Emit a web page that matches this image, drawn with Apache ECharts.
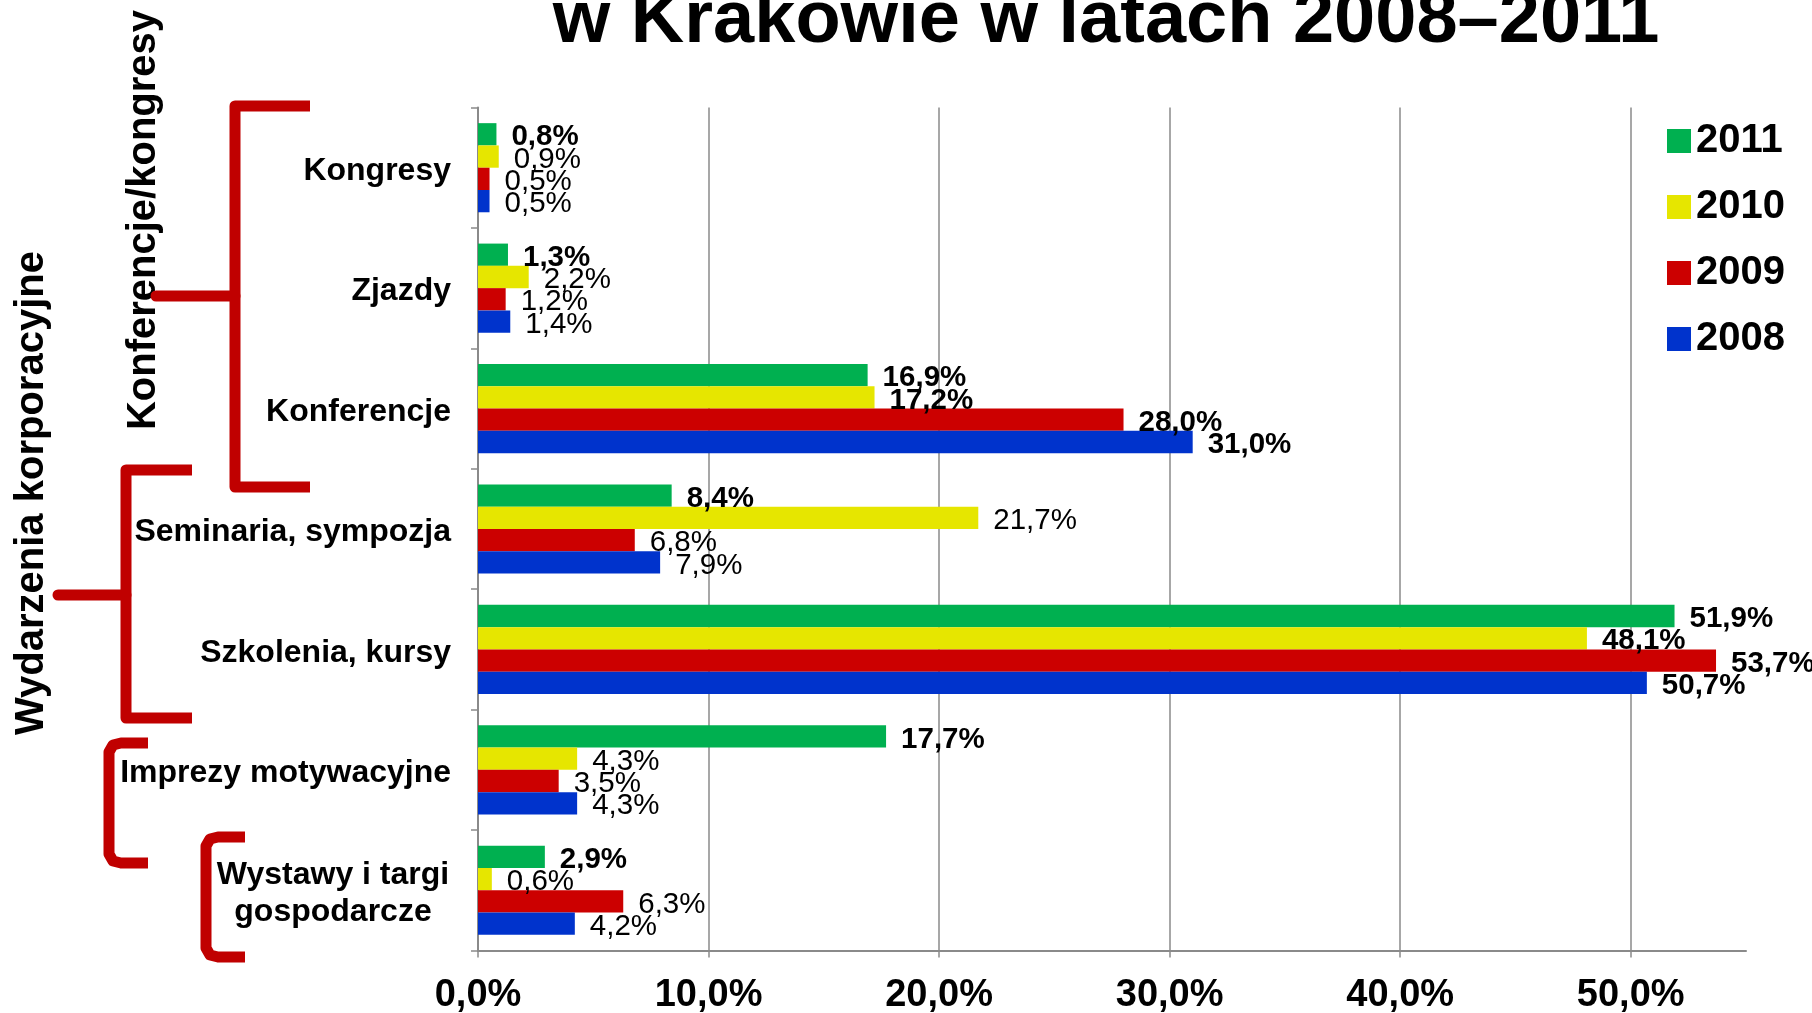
<!DOCTYPE html>
<html><head><meta charset="utf-8">
<script src="https://cdn.jsdelivr.net/npm/echarts@6/dist/echarts.min.js"></script>
<style>html,body{margin:0;padding:0;background:#fff}#c{width:1812px;height:1013px}</style>
</head><body><div id="c"></div>
<script>
const categories = ['Kongresy','Zjazdy','Konferencje','Seminaria, sympozja','Szkolenia, kursy','Imprezy motywacyjne','Wystawy i targi\ngospodarcze'];
const years = ['2011','2010','2009','2008'];
const v2011 = [0.8,1.3,16.9,8.4,51.9,17.7,2.9];
const v2010 = [0.9,2.2,17.2,21.7,48.1,4.3,0.6];
const v2009 = [0.5,1.2,28.0,6.8,53.7,3.5,6.3];
const v2008 = [0.5,1.4,31.0,7.9,50.7,4.3,4.2];
const xTickValues = [0,10,20,30,40,50];
const xTickLabels = ['0,0%','10,0%','20,0%','30,0%','40,0%','50,0%'];
const titleText = 'w Krakowie w latach 2008–2011';
const groupLabels = ['Konferencje/kongresy','Wydarzenia korporacyjne'];

// styling
const FONT = '"Liberation Sans", Arial, sans-serif';
const colors = ['#00B050','#E6E600','#CC0000','#0033CC'];
const boldCategories = ['Konferencje','Szkolenia, kursy'];
const RED = '#C00000';
const GRAY = '#8a8a8a';

const seriesValues = [v2011, v2010, v2009, v2008];
const fmt = v => v.toFixed(1).replace('.', ',') + '%';

const series = years.map((y, si) => ({
  name: y,
  type: 'bar',
  barGap: '0%',
  barCategoryGap: '26%',
  itemStyle: { color: colors[si] },
  label: {
    show: true, position: 'right', distance: 15, offset: [0, 3],
    fontFamily: FONT, fontSize: 29.5, color: '#000',
    formatter: p => fmt(p.value)
  },
  data: seriesValues[si].map((v, ci) => ({
    value: v,
    label: { fontWeight: (si === 0 || boldCategories.includes(categories[ci])) ? 'bold' : 'normal' }
  }))
}));

const bracketStyle = { stroke: RED, lineWidth: 11, fill: null, lineJoin: 'round' };

const chart = echarts.init(document.getElementById('c'));
chart.setOption({
  animation: false,
  backgroundColor: '#fff',
  legend: {
    data: years,
    orient: 'vertical',
    left: 1662, top: 116,
    itemWidth: 24, itemHeight: 24, itemGap: 26,
    icon: 'rect',
    textStyle: { fontFamily: FONT, fontSize: 40, fontWeight: 'bold', color: '#000', lineHeight: 40 }
  },
  grid: { left: 478, right: 66, top: 107.5, bottom: 62.5, containLabel: false, outerBoundsMode: 'none' },
  xAxis: {
    type: 'value', min: 0, max: 55, interval: 10,
    axisLine: { show: true, lineStyle: { color: GRAY, width: 2 } },
    axisTick: { show: true, length: 7, lineStyle: { color: GRAY, width: 1.5 }, customValues: xTickValues },
    splitLine: { show: true, lineStyle: { color: GRAY, width: 1.5 } },
    axisLabel: {
      customValues: xTickValues,
      margin: 26, fontFamily: FONT, fontSize: 38, fontWeight: 'bold', color: '#000',
      formatter: v => { const i = xTickValues.indexOf(v); return i >= 0 ? xTickLabels[i] : ''; }
    }
  },
  yAxis: {
    type: 'category', data: categories, inverse: true,
    axisLine: { show: true, lineStyle: { color: GRAY, width: 2 } },
    axisTick: { show: true, length: 7, lineStyle: { color: GRAY, width: 1.5 } },
    axisLabel: {
      margin: 27, fontFamily: FONT, fontSize: 32, fontWeight: 'bold', color: '#000', align: 'right',
      padding: [7, 0, 0, 0],
      formatter: v => v.includes('\n') ? v.split('\n').map(s => '{c|' + s + '}').join('\n') : v,
      rich: { c: { width: 236, align: 'center', fontFamily: FONT, fontSize: 32, fontWeight: 'bold', color: '#000', lineHeight: 37 } }
    }
  },
  series: series,
  graphic: [
    { type: 'text', x: 1106, y: 21.5, style: { text: titleText, fontFamily: FONT, fontSize: 74, fontWeight: 'bold', fill: '#000', align: 'center', verticalAlign: 'middle' } },
    { type: 'text', x: 143.5, y: 220, rotation: Math.PI / 2, style: { text: groupLabels[0], fontFamily: FONT, fontSize: 40, fontWeight: 'bold', fill: '#000', align: 'center', verticalAlign: 'middle' } },
    { type: 'text', x: 31.5, y: 493, rotation: Math.PI / 2, style: { text: groupLabels[1], fontFamily: FONT, fontSize: 40, fontWeight: 'bold', fill: '#000', align: 'center', verticalAlign: 'middle' } },
    { type: 'polyline', shape: { points: [[310,106],[235,106],[235,487],[310,487]] }, style: bracketStyle },
    { type: 'polyline', shape: { points: [[156,296],[235,296]] }, style: { stroke: RED, lineWidth: 11, fill: null, lineCap: 'round' } },
    { type: 'polyline', shape: { points: [[192,470],[126,470],[126,718],[192,718]] }, style: bracketStyle },
    { type: 'polyline', shape: { points: [[58,595],[126,595]] }, style: { stroke: RED, lineWidth: 11, fill: null, lineCap: 'round' } },
    { type: 'polyline', shape: { points: [[148,743],[121,743],[113,745],[109,752],[109,854],[113,861],[121,863],[148,863]] }, style: bracketStyle },
    { type: 'polyline', shape: { points: [[245,837],[218,837],[210,839],[206,846],[206,948],[210,955],[218,957],[245,957]] }, style: bracketStyle }
  ]
});
</script>
</body></html>
